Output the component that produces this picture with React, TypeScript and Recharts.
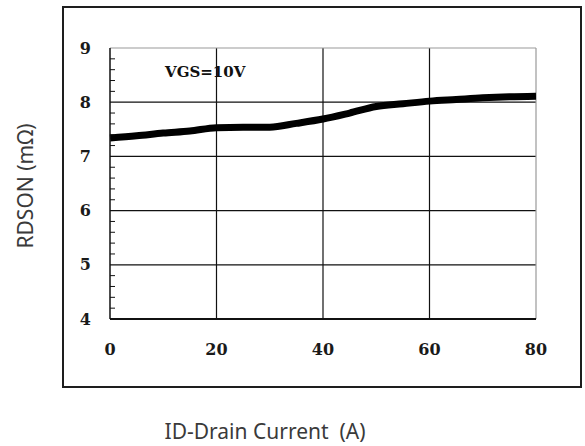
import React from 'react';
import { LineChart, Line, XAxis, YAxis, CartesianGrid, ReferenceLine } from 'recharts';

// drain current (A) and on-resistance (mOhm)
const currents = [0, 5, 10, 15, 20, 25, 30, 35, 40, 45, 50, 55, 60, 65, 70, 75, 80];
const rdson = [7.34, 7.38, 7.43, 7.47, 7.53, 7.54, 7.54, 7.61, 7.69, 7.8, 7.92, 7.97, 8.02, 8.05, 8.08, 8.1, 8.11];

const xTicks = [0, 20, 40, 60, 80];
const yTicks = [4, 5, 6, 7, 8, 9];
const yMinorTicks = [4.2, 4.4, 4.6, 4.8, 5.2, 5.4, 5.6, 5.8, 6.2, 6.4, 6.6, 6.8, 7.2, 7.4, 7.6, 7.8, 8.2, 8.4, 8.6, 8.8];
const gridX = [20, 40, 60];
const gridY = [5, 6, 7, 8];

const note = 'VGS=10V';
const xTitle = 'ID-Drain Current  (A)';
const yTitle = 'RDSON (mΩ)';

const data = currents.map((id, i) => ({ id, rdson: rdson[i] }));

const tickFont = { fill: '#1a1a1a', fontSize: 16, fontFamily: 'DejaVu Serif', fontWeight: 'bold' as const };
const titleFont: React.CSSProperties = {
    position: 'absolute', fontFamily: 'Noto Sans', fontSize: 21, color: '#3a3a3a',
    whiteSpace: 'pre', lineHeight: '22px',
};

export default function App() {
    return (
        <div style={{ position: 'absolute', left: 0, top: 0, width: 585, height: 446, background: '#fff', overflow: 'hidden' }}>
            <div style={{
                position: 'absolute', left: 62, top: 6, width: 520, height: 382,
                border: '2px solid #1e1e1e', boxSizing: 'border-box',
            }} />
            <div style={{ position: 'absolute', left: 0, top: 0 }}>
                <LineChart width={585} height={446} data={data} margin={{ top: 48, right: 49, bottom: 0, left: 0 }}>
                    <CartesianGrid stroke="#111" strokeWidth={1.2} horizontalValues={gridY} verticalValues={gridX} />
                    <ReferenceLine y={9} stroke="#999" strokeWidth={1.2} />
                    <ReferenceLine x={80} stroke="#999" strokeWidth={1.2} />
                    <XAxis dataKey="id" type="number" domain={[0, 80]} ticks={xTicks} height={127}
                        axisLine={{ stroke: '#111', strokeWidth: 2 }} tickLine={false} tickSize={0} tickMargin={25}
                        tick={tickFont} />
                    <YAxis type="number" domain={[4, 9]} ticks={yTicks} width={110}
                        axisLine={{ stroke: '#111', strokeWidth: 1.5 }} tickLine={false} tickSize={0} tickMargin={19}
                        tick={tickFont} />
                    <YAxis yAxisId="minor" type="number" domain={[4, 9]} ticks={yMinorTicks} allowDataOverflow
                        mirror axisLine={false} tickFormatter={() => ''} tickSize={5}
                        tickLine={{ stroke: '#111', strokeWidth: 1 }} />
                    <Line type="monotone" dataKey="rdson" stroke="#000" strokeWidth={7} dot={false}
                        isAnimationActive={false} />
                </LineChart>
            </div>
            <div style={{
                position: 'absolute', left: 165, top: 65, fontFamily: 'DejaVu Serif', fontWeight: 'bold',
                fontSize: 15, lineHeight: '15px', color: '#111', whiteSpace: 'nowrap',
            }}>{note}</div>
            <div style={{ ...titleFont, left: 265, top: 431, transform: 'translate(-50%, -50%)' }}>{xTitle}</div>
            <div style={{ ...titleFont, left: 25, top: 186, transform: 'translate(-50%, -50%) rotate(-90deg)' }}>{yTitle}</div>
        </div>
    );
}
